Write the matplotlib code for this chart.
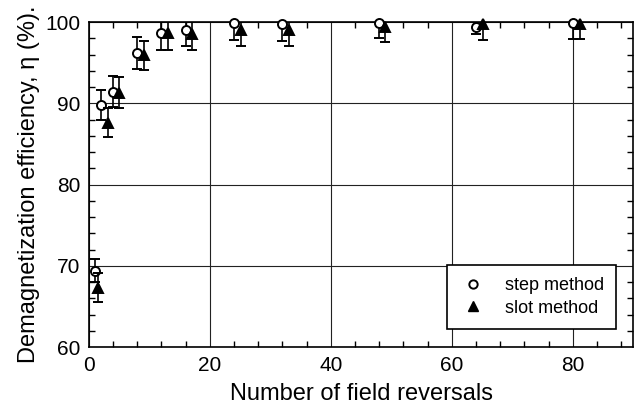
import matplotlib.pyplot as plt
from matplotlib.lines import Line2D
from matplotlib.ticker import MultipleLocator

plt.rcParams['font.family'] = ['Liberation Sans', 'DejaVu Sans']

# Demagnetization efficiency vs number of field reversals
step_n = [1, 2, 4, 8, 12, 16, 24, 32, 48, 64, 80]
step_eta = [69.4, 89.8, 91.4, 96.2, 98.7, 99.0, 99.9, 99.8, 99.9, 99.4, 99.9]
step_err = [1.4, 1.85, 1.9, 2.0, 2.1, 2.0, 2.1, 2.1, 1.9, 0.9, 2.0]

slot_n = [1.6, 3.1, 5.0, 9.1, 13.1, 17.1, 25.1, 33.1, 49.0, 65.1, 81.2]
slot_eta = [67.3, 87.6, 91.3, 95.9, 98.6, 98.5, 99.0, 99.0, 99.4, 99.75, 99.75]
slot_err = [1.8, 1.8, 1.9, 1.8, 2.0, 2.0, 2.0, 1.9, 1.8, 1.95, 1.85]

fig = plt.figure(figsize=(6.39, 4.08), dpi=100)
ax = fig.add_axes([0.139, 0.149, 0.852, 0.797])


def draw(x, y, err, marker, ms, face, z):
    line, caps, bars = ax.errorbar(x, y, yerr=err, fmt=marker, ms=ms, mfc=face,
                                   mec='black', mew=1.4, ecolor='black',
                                   elinewidth=1.2, capsize=3.5, capthick=1.2,
                                   zorder=z)
    # error bars stay inside the frame, markers may sit on the top spine
    line.set_clip_on(False)


draw(step_n, step_eta, step_err, 'o', 6.5, 'white', 3)
draw(slot_n, slot_eta, slot_err, '^', 7, 'black', 4)

ax.set_xlim(0, 90)
ax.set_ylim(60, 100)
ax.xaxis.set_major_locator(MultipleLocator(20))
ax.xaxis.set_minor_locator(MultipleLocator(4))
ax.yaxis.set_major_locator(MultipleLocator(10))
ax.yaxis.set_minor_locator(MultipleLocator(2))
ax.tick_params(which='both', direction='in', top=True, right=True, width=1)
ax.tick_params(which='major', length=0, labelsize=15)
ax.tick_params(axis='x', which='major', pad=6)
ax.tick_params(axis='y', which='major', pad=6)
ax.tick_params(which='minor', length=4)
ax.grid(True, which='major', color='#222222', linewidth=0.8)
ax.set_axisbelow(True)
for s in ax.spines.values():
    s.set_linewidth(1.2)

ax.set_xlabel('Number of field reversals', fontsize=17, labelpad=6)
ax.set_ylabel('Demagnetization efficiency, η (%).', fontsize=17, labelpad=4)

handles = [
    Line2D([], [], marker='o', ls='none', ms=6, mfc='white', mec='black', mew=1.4),
    Line2D([], [], marker='^', ls='none', ms=6.5, mfc='black', mec='black'),
]
leg = ax.legend(handles, ['step method', 'slot method'], loc='lower right',
                bbox_to_anchor=(0.969, 0.055), borderaxespad=0, fontsize=13,
                frameon=True, fancybox=False, edgecolor='black', framealpha=1,
                handletextpad=1.0, borderpad=0.7, labelspacing=0.3,
                handlelength=1.5)
leg.get_frame().set_linewidth(1.2)

fig.savefig('out.png', dpi=100)
